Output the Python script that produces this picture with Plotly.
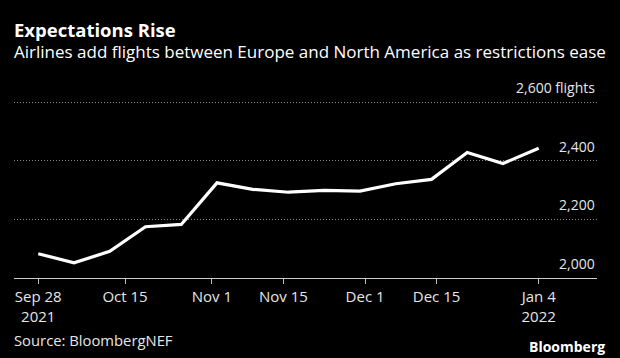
import plotly.graph_objects as go

dates = ["2021-09-28", "2021-10-05", "2021-10-12", "2021-10-19", "2021-10-26",
         "2021-11-02", "2021-11-09", "2021-11-16", "2021-11-23", "2021-11-30",
         "2021-12-07", "2021-12-14", "2021-12-21", "2021-12-28", "2022-01-04"]
flights = [2083, 2052, 2091, 2175, 2183, 2325, 2303, 2293, 2299, 2297,
           2322, 2337, 2429, 2391, 2443]

x_tick_vals = ["2021-09-28", "2021-10-15", "2021-11-01", "2021-11-15",
               "2021-12-01", "2021-12-15", "2022-01-04"]
x_tick_text = ["Sep 28<br>2021", "Oct 15", "Nov 1", "Nov 15", "Dec 1",
               "Dec 15", "Jan 4<br>2022"]
y_tick_vals = [2000, 2200, 2400, 2600]
y_tick_text = ["2,000", "2,200", "2,400", "2,600 flights"]

title = "Expectations Rise"
subtitle = "Airlines add flights between Europe and North America as restrictions ease"
source = "Source: BloombergNEF"
brand = "Bloomberg"

FONT = "Open Sans"
TXT = "#e6e6e6"

fig = go.Figure()
fig.add_trace(go.Scatter(x=dates, y=flights, mode="lines",
                         line=dict(color="#ffffff", width=3.2),
                         hoverinfo="skip", showlegend=False))

L, R, T, B = 14, 23, 100, 80
W, H = 620, 358
pw = W - L - R
ph = H - T - B

def px_x(x):
    return (x - L) / pw

def px_y(y):
    return (H - B - y) / ph

annotations = []
for v, t in zip(y_tick_vals, y_tick_text):
    annotations.append(dict(x=1, xref="paper", y=v, yref="y", text=t,
                            showarrow=False, xanchor="right", yanchor="bottom",
                            yshift=3, font=dict(family=FONT, size=14, color=TXT)))

annotations.append(dict(x=px_x(12), y=px_y(30), xref="paper", yref="paper", text="<b>" + title + "</b>",
                        showarrow=False, xanchor="left", yanchor="middle",
                        font=dict(family=FONT, size=18.5, color="#ffffff")))
annotations.append(dict(x=px_x(12), y=px_y(51.5), xref="paper", yref="paper", text=subtitle,
                        showarrow=False, xanchor="left", yanchor="middle",
                        font=dict(family=FONT, size=17, color="#ffffff")))
annotations.append(dict(x=px_x(12), y=px_y(340), xref="paper", yref="paper", text=source,
                        showarrow=False, xanchor="left", yanchor="middle",
                        font=dict(family=FONT, size=14.8, color=TXT)))
annotations.append(dict(x=px_x(607), y=px_y(346), xref="paper", yref="paper", text="<b>" + brand + "</b>",
                        showarrow=False, xanchor="right", yanchor="middle",
                        font=dict(family=FONT, size=14, color="#ffffff")))

fig.update_layout(
    width=W, height=H,
    margin=dict(l=L, r=R, t=T, b=B, pad=0),
    paper_bgcolor="#000000", plot_bgcolor="#000000",
    annotations=annotations,
    xaxis=dict(type="date", range=["2021-09-23 06:00", "2022-01-15 10:00"],
               tickvals=x_tick_vals, ticktext=x_tick_text,
               ticks="outside", ticklen=5, tickcolor="#bbbbbb", tickwidth=1,
               showline=True, linecolor="#cccccc", linewidth=1,
               showgrid=False, zeroline=False,
               tickfont=dict(family=FONT, size=15, color=TXT)),
    yaxis=dict(range=[2000, 2608], tickvals=y_tick_vals, showticklabels=False,
               showgrid=True, gridcolor="#8a8a8a", griddash="1px,2px", gridwidth=1,
               zeroline=False, showline=False, ticks=""),
    hovermode=False,
)

fig.write_html("out.html", config={"displayModeBar": False},
               post_script="document.body.style.margin='0';document.body.style.background='#000';")
